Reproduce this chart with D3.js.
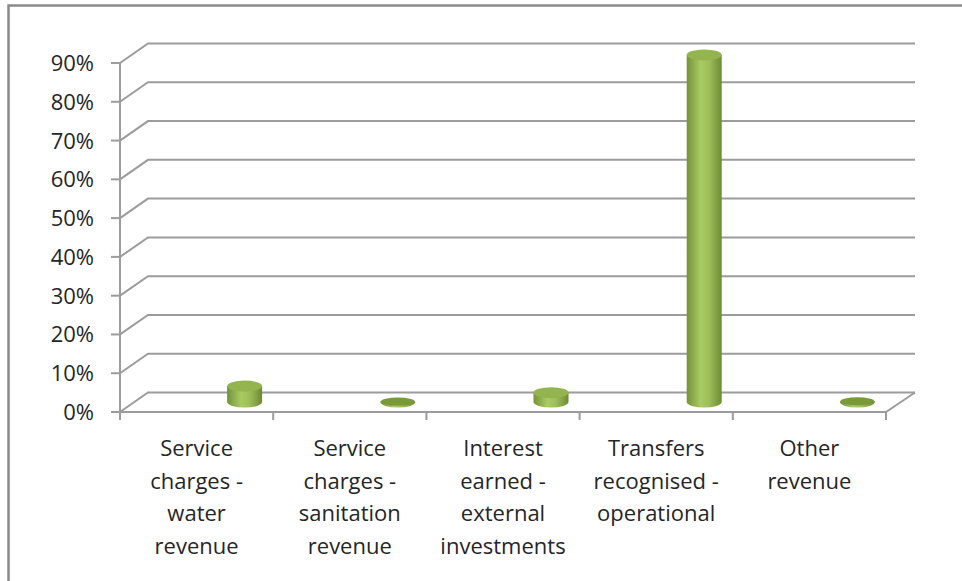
<!DOCTYPE html>
<html>
<head>
<meta charset="utf-8">
<script src="https://cdn.jsdelivr.net/npm/d3@7"></script>
<style>
  body { margin: 0; background: #fff; }
  svg { display: block; }
  text { font-family: "Open Sans", "Noto Sans", sans-serif; fill: #262626; }
</style>
</head>
<body>
<div id="chart"></div>
<script>
var w = 962;
var h = 581;

// data
var categories = [
    ["Service", "charges -", "water", "revenue"],
    ["Service", "charges -", "sanitation", "revenue"],
    ["Interest", "earned -", "external", "investments"],
    ["Transfers", "recognised -", "operational"],
    ["Other", "revenue"]
];
var values = [0.041, 0.001, 0.024, 0.895, 0.002];
var yTicks = [0, 0.1, 0.2, 0.3, 0.4, 0.5, 0.6, 0.7, 0.8, 0.9];

// 3d offsets of the back wall
var dx = 28, dy = -19.5;
var pLeft = 120, pRight = 886, pBottom = 412, pTop = 63;

var svg = d3.select("#chart")
    .append("svg")
    .attr("width", w)
    .attr("height", h);

var defs = svg.append("defs");
var grad = defs.append("linearGradient")
    .attr("id", "cyl")
    .attr("x1", "0%").attr("x2", "100%")
    .attr("y1", "0%").attr("y2", "0%");
grad.append("stop").attr("offset", "0%").attr("stop-color", "#74923a");
grad.append("stop").attr("offset", "40%").attr("stop-color", "#a9cb63");
grad.append("stop").attr("offset", "65%").attr("stop-color", "#9cbd58");
grad.append("stop").attr("offset", "100%").attr("stop-color", "#6d8a34");

// outer border
svg.append("rect")
    .attr("x", 8.5).attr("y", 5.5)
    .attr("width", 1000).attr("height", 700)
    .attr("fill", "none")
    .attr("stroke", "#8a8a8a")
    .attr("stroke-width", 2.5);

var x = d3.scaleBand()
    .domain(d3.range(categories.length))
    .range([pLeft, pRight]);

var y = d3.scaleLinear()
    .domain([0, 0.9])
    .range([pBottom, pTop]);

// gridlines on the wall
svg.selectAll("path.grid")
    .data(yTicks)
    .enter()
    .append("path")
    .attr("class", "grid")
    .attr("d", function (d) {
        return "M" + pLeft + "," + y(d) + "L" + (pLeft + dx) + "," + (y(d) + dy) +
            "L" + (pRight + dx + 1) + "," + (y(d) + dy);
    })
    .attr("fill", "none")
    .attr("stroke", "#9c9c9c")
    .attr("stroke-width", 2);

// floor front and right edges
svg.append("path")
    .attr("d", "M" + pLeft + "," + pBottom + "L" + pRight + "," + pBottom +
        "L" + (pRight + dx + 1) + "," + (pBottom + dy))
    .attr("fill", "none")
    .attr("stroke", "#9c9c9c")
    .attr("stroke-width", 2);

// value axis
svg.append("line")
    .attr("x1", pLeft).attr("x2", pLeft)
    .attr("y1", y(0.9)).attr("y2", y(0))
    .attr("stroke", "#9c9c9c")
    .attr("stroke-width", 2);

svg.selectAll("line.ytick")
    .data(yTicks)
    .enter()
    .append("line")
    .attr("class", "ytick")
    .attr("x1", pLeft - 9).attr("x2", pLeft)
    .attr("y1", function (d) { return y(d); })
    .attr("y2", function (d) { return y(d); })
    .attr("stroke", "#9c9c9c")
    .attr("stroke-width", 2);

svg.selectAll("text.ylab")
    .data(yTicks)
    .enter()
    .append("text")
    .attr("class", "ylab")
    .attr("x", 94)
    .attr("y", function (d) { return y(d) + 8; })
    .attr("text-anchor", "end")
    .attr("font-size", "22px")
    .text(d3.format(".0%"));

// category ticks
svg.selectAll("line.xtick")
    .data(d3.range(categories.length + 1))
    .enter()
    .append("line")
    .attr("class", "xtick")
    .attr("x1", function (i) { return pLeft + i * x.step(); })
    .attr("x2", function (i) { return pLeft + i * x.step(); })
    .attr("y1", pBottom)
    .attr("y2", pBottom + 8)
    .attr("stroke", "#9c9c9c")
    .attr("stroke-width", 2);

// category labels
var labels = svg.selectAll("text.xlab")
    .data(categories)
    .enter()
    .append("text")
    .attr("class", "xlab")
    .attr("text-anchor", "middle")
    .attr("font-size", "22px");

labels.selectAll("tspan")
    .data(function (d, i) {
        return d.map(function (s) { return { s: s, i: i }; });
    })
    .enter()
    .append("tspan")
    .attr("x", function (d) { return x(d.i) + x.bandwidth() / 2; })
    .attr("y", function (d, j) { return 456 + j * 32.5; })
    .text(function (d) { return d.s; });

// cylinders
var rx = 17.5, ry = 5.5, shift = 48, mid = 10;
var bars = svg.selectAll("g.bar")
    .data(values)
    .enter()
    .append("g")
    .attr("class", "bar");

bars.append("path")
    .attr("d", function (d, i) {
        var cx = x(i) + x.bandwidth() / 2 + shift;
        var yb = y(0) - mid, yt = y(d) - mid;
        return "M" + (cx - rx) + "," + yt + "L" + (cx - rx) + "," + yb +
            "A" + rx + "," + ry + " 0 0 0 " + (cx + rx) + "," + yb +
            "L" + (cx + rx) + "," + yt + "Z";
    })
    .attr("fill", "url(#cyl)");

bars.append("ellipse")
    .attr("cx", function (d, i) { return x(i) + x.bandwidth() / 2 + shift; })
    .attr("cy", function (d) { return y(d) - mid; })
    .attr("rx", function (d) { return d < 0.005 ? 17 : rx; })
    .attr("ry", function (d) { return d < 0.005 ? 4 : ry; })
    .attr("fill", function (d) { return d < 0.005 ? "#7a9a3a" : "#93b44e"; });
</script>
</body>
</html>
